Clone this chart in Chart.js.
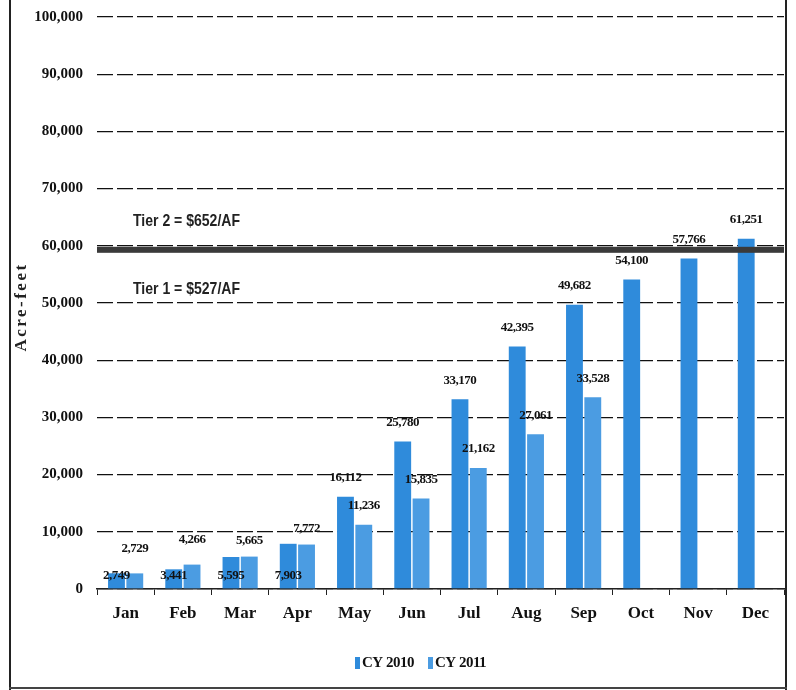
<!DOCTYPE html>
<html>
<head>
<meta charset="utf-8">
<script src="https://cdn.jsdelivr.net/npm/chart.js@4"></script>
<style>
  html,body{margin:0;padding:0;background:#fff;}
  #wrap{position:relative;width:796px;height:690px;}
  #frameL{position:absolute;left:9px;top:0;width:2px;height:690px;background:#222;}
  #frameR{position:absolute;left:785px;top:0;width:2px;height:690px;background:#222;}
  #frameB{position:absolute;left:9px;top:687px;width:778px;height:2px;background:#444;}
  canvas{position:absolute;left:0;top:0;}
</style>
</head>
<body>
<div id="wrap">
  <canvas id="c" width="796" height="690"></canvas>
  <div id="frameL"></div><div id="frameR"></div><div id="frameB"></div>
</div>
<script>
const months = ["Jan","Feb","Mar","Apr","May","Jun","Jul","Aug","Sep","Oct","Nov","Dec"];
const cy2010 = [2749, 3441, 5595, 7903, 16112, 25780, 33170, 42395, 49682, 54100, 57766, 61251];
const cy2011 = [2729, 4266, 5665, 7772, 11236, 15835, 21162, 27061, 33528, null, null, null];
const seriesNames = ["CY 2010", "CY 2011"];
const tierBoundary = 59300;
const tierLabels = ["Tier 2 = $652/AF", "Tier 1 = $527/AF"];
const yMax = 100000, yStep = 10000;

const serif = "'Liberation Serif', 'DejaVu Serif', serif";
const fmt = v => v.toLocaleString('en-US');

const overlayPlugin = {
  id: 'overlay',
  afterDatasetsDraw(chart) {
    const ctx = chart.ctx;
    const y = chart.scales.y;
    const area = chart.chartArea;
    // tier boundary line
    const ty = y.getPixelForValue(tierBoundary);
    ctx.save();
    ctx.fillStyle = '#3a3a3a';
    ctx.fillRect(area.left, ty - 3, area.right - area.left, 6);
    // tier labels (condensed)
    ctx.fillStyle = '#222';
    ctx.font = "bold 17px 'Liberation Sans', sans-serif";
    ctx.textBaseline = 'middle';
    ctx.textAlign = 'left';
    [[tierLabels[0], ty - 28], [tierLabels[1], ty + 40]].forEach(([t, yy]) => {
      ctx.save();
      ctx.translate(133, yy);
      const w = ctx.measureText(t).width;
      ctx.scale(107 / w, 1);
      ctx.fillText(t, 0, 0);
      ctx.restore();
    });
    // value labels
    ctx.font = "bold 13px " + serif;
    ctx.letterSpacing = '-0.5px';
    ctx.textAlign = 'center';
    ctx.fillStyle = '#111';
    const base = y.getPixelForValue(0);
    chart.data.datasets.forEach((ds, di) => {
      const meta = chart.getDatasetMeta(di);
      meta.data.forEach((bar, i) => {
        const v = ds.data[i];
        if (v == null) return;
        let ly;
        if (v < 10000) {
          ly = di === 0 ? base - 13 : bar.y - (v < 5000 ? 25 : 16);
        } else {
          ly = bar.y - 19;
        }
        ctx.fillText(fmt(v), bar.x, ly);
      });
    });
    // y axis title
    ctx.save();
    ctx.translate(22, 307);
    ctx.rotate(-Math.PI / 2);
    ctx.font = "bold 17px " + serif;
    ctx.letterSpacing = '2.5px';
    ctx.fillStyle = '#222';
    ctx.fillText('Acre-feet', 0, 0);
    ctx.restore();
    // legend
    ctx.font = "bold 15px " + serif;
    ctx.letterSpacing = '-0.5px';
    ctx.textAlign = 'left';
    const colors = chart.data.datasets.map(d => d.backgroundColor);
    const lx = [355, 428];
    seriesNames.forEach((n, k) => {
      ctx.fillStyle = colors[k];
      ctx.fillRect(lx[k], 657, 5, 12);
      ctx.fillStyle = '#111';
      ctx.fillText(n, lx[k] + 7, 663);
    });
    ctx.restore();
  }
};

new Chart(document.getElementById('c'), {
  type: 'bar',
  data: {
    labels: months,
    datasets: [
      { label: seriesNames[0], data: cy2010, backgroundColor: '#2f8bdb', categoryPercentage: 0.64, barPercentage: 0.92 },
      { label: seriesNames[1], data: cy2011, backgroundColor: '#4b9ce2', categoryPercentage: 0.64, barPercentage: 0.92 }
    ]
  },
  options: {
    responsive: false,
    animation: false,
    devicePixelRatio: 1,
    layout: { padding: { top: 17, right: 12, left: 0, bottom: 0 } },
    plugins: { legend: { display: false }, tooltip: { enabled: false } },
    scales: {
      x: {
        grid: { display: true, drawOnChartArea: false, drawTicks: true, tickLength: 6, color: '#222', offset: true },
        border: { display: true, color: '#222', width: 1.5 },
        ticks: { color: '#111', font: { family: serif, size: 17, weight: 'bold' }, padding: 8 },
        afterFit: s => { s.height = 101; }
      },
      y: {
        min: 0, max: yMax,
        ticks: { stepSize: yStep, color: '#111', font: { family: serif, size: 15, weight: 'bold' }, padding: 14,
                 callback: v => fmt(v) },
        grid: { color: '#111', lineWidth: 1.3, drawTicks: false },
        border: { display: false, dash: [16, 4] },
        afterFit: s => { s.width = 97; s.paddingTop = 0; s.paddingBottom = 0; }
      }
    }
  },
  plugins: [overlayPlugin]
});
</script>
</body>
</html>
